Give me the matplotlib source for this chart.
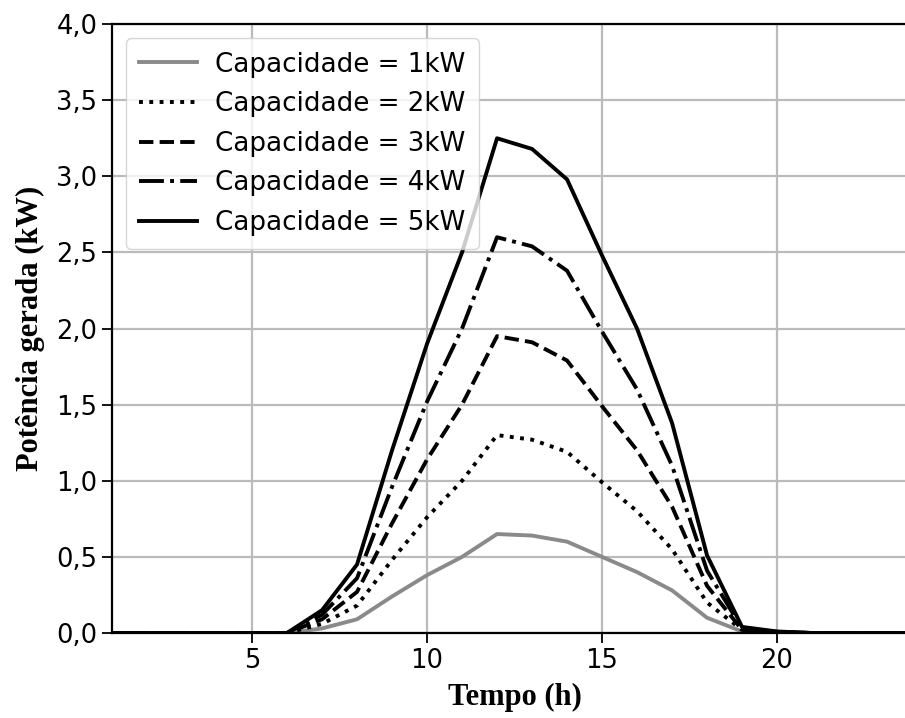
import matplotlib.pyplot as plt

hours = list(range(1, 25))

# generated power per capacity (kW)
p1 = [0, 0, 0, 0, 0, 0, 0.03, 0.09, 0.24, 0.38, 0.50, 0.65, 0.64, 0.60, 0.50, 0.40, 0.28, 0.10, 0.01, 0, 0, 0, 0, 0]
p2 = [0, 0, 0, 0, 0, 0, 0.06, 0.18, 0.48, 0.76, 1.00, 1.30, 1.27, 1.19, 0.99, 0.80, 0.55, 0.20, 0.02, 0.005, 0, 0, 0, 0]
p3 = [0, 0, 0, 0, 0, 0, 0.09, 0.27, 0.72, 1.14, 1.50, 1.95, 1.91, 1.79, 1.49, 1.20, 0.83, 0.31, 0.02, 0.005, 0, 0, 0, 0]
p4 = [0, 0, 0, 0, 0, 0, 0.12, 0.36, 0.96, 1.52, 2.00, 2.60, 2.54, 2.38, 1.98, 1.60, 1.10, 0.41, 0.03, 0.008, 0, 0, 0, 0]
p5 = [0, 0, 0, 0, 0, 0, 0.15, 0.45, 1.20, 1.90, 2.50, 3.25, 3.18, 2.98, 2.48, 2.00, 1.38, 0.51, 0.04, 0.01, 0, 0, 0, 0]

labels = ["Capacidade = 1kW", "Capacidade = 2kW", "Capacidade = 3kW",
          "Capacidade = 4kW", "Capacidade = 5kW"]

fig = plt.figure(figsize=(9.05, 7.18), dpi=100)
ax = fig.add_axes([0.1238, 0.1184, 0.8895, 0.848])

lw = 2.8
ax.plot(hours, p1, color='#8a8a8a', lw=lw, label=labels[0])
ax.plot(hours, p2, color='black', lw=lw, ls=':', label=labels[1])
ax.plot(hours, p3, color='black', lw=lw, ls='--', label=labels[2])
ax.plot(hours, p4, color='black', lw=lw, ls='-.', label=labels[3])
ax.plot(hours, p5, color='black', lw=lw, ls='-', label=labels[4])

ax.set_xlim(1, 24)
ax.set_ylim(0, 4.0)
ax.set_xticks([5, 10, 15, 20])
ax.set_yticks([0, 0.5, 1, 1.5, 2, 2.5, 3, 3.5, 4])
ax.set_yticklabels([f"{v:.1f}".replace('.', ',') for v in ax.get_yticks()])
ax.tick_params(labelsize=18.5, length=7, width=1.3)
ax.grid(True, color='#bbbbbb', lw=1.6)
ax.set_axisbelow(True)
for s in ax.spines.values():
    s.set_linewidth(1.6)

ax.set_xlabel("Tempo (h)", family='Liberation Serif', fontweight='bold', fontsize=22, labelpad=7)
ax.set_ylabel("Potência gerada (kW)", family='Liberation Serif', fontweight='bold', fontsize=22, labelpad=8)

ax.legend(loc='upper left', fontsize=18.8, handlelength=2.2, handletextpad=0.7,
          borderpad=0.5, labelspacing=0.52, borderaxespad=0.55)

fig.savefig("out.png", dpi=100)
